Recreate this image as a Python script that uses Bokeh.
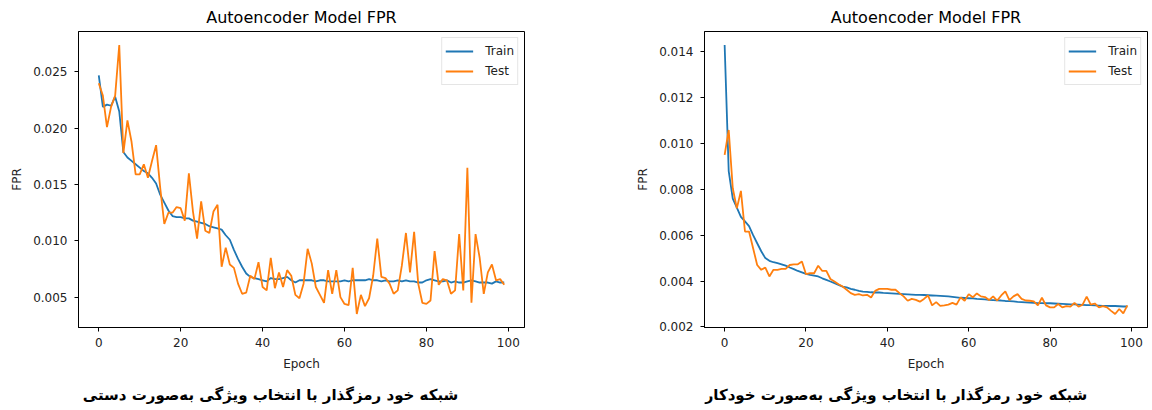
from bokeh.plotting import figure
from bokeh.layouts import row, column
from bokeh.models import Range1d, FixedTicker, PrintfTickFormatter, Label, Legend, LegendItem
from bokeh.embed import file_html
from bokeh.resources import INLINE

epochs = list(range(100))

manual_train = [
    0.0247, 0.0219, 0.0221, 0.0220, 0.0228, 0.0215, 0.0179, 0.0174, 0.0171, 0.0168,
    0.0165, 0.0162, 0.0160, 0.0156, 0.0151, 0.0141, 0.0134, 0.0127, 0.0122, 0.0121,
    0.0121, 0.0120, 0.0120, 0.0118, 0.0117, 0.0116, 0.0115, 0.0113, 0.0112, 0.0111,
    0.0110, 0.0105, 0.0101, 0.0092, 0.0084, 0.0077, 0.0071, 0.0068, 0.0067, 0.0066,
    0.0065, 0.0064, 0.0067, 0.0066, 0.0066, 0.0067, 0.0068, 0.0065, 0.0063, 0.0065,
    0.0065, 0.0065, 0.0065, 0.0064, 0.0065, 0.0065, 0.0064, 0.0064, 0.0064, 0.0064,
    0.0065, 0.0064, 0.0065, 0.0065, 0.0065, 0.0065, 0.0066, 0.0065, 0.0065, 0.0064,
    0.0065, 0.0064, 0.0064, 0.0065, 0.0064, 0.0065, 0.0064, 0.0064, 0.0063, 0.0063,
    0.0065, 0.0066, 0.0065, 0.0064, 0.0064, 0.0065, 0.0063, 0.0064, 0.0063, 0.0063,
    0.0064, 0.0065, 0.0064, 0.0063, 0.0063, 0.0063, 0.0062, 0.0064, 0.0063, 0.0063,
]
manual_test = [
    0.0240, 0.0229, 0.0201, 0.0219, 0.0229, 0.0274, 0.0178, 0.0207, 0.0188, 0.0159,
    0.0159, 0.0168, 0.0156, 0.0171, 0.0185, 0.0147, 0.0115, 0.0125, 0.0125, 0.0130,
    0.0129, 0.0118, 0.0160, 0.0126, 0.0102, 0.0135, 0.0109, 0.0107, 0.0126, 0.0132,
    0.0077, 0.0094, 0.0079, 0.0076, 0.0062, 0.0053, 0.0054, 0.0069, 0.0066, 0.0081,
    0.0059, 0.0056, 0.0085, 0.0058, 0.0072, 0.0059, 0.0074, 0.0069, 0.0052, 0.0049,
    0.0062, 0.0093, 0.0080, 0.0059, 0.0052, 0.0045, 0.0074, 0.0053, 0.0074, 0.0050,
    0.0044, 0.0043, 0.0076, 0.0035, 0.0052, 0.0042, 0.0049, 0.0069, 0.0102, 0.0068,
    0.0067, 0.0062, 0.0053, 0.0056, 0.0078, 0.0107, 0.0072, 0.0108, 0.0062, 0.0045,
    0.0044, 0.0047, 0.0091, 0.0061, 0.0066, 0.0065, 0.0053, 0.0056, 0.0106, 0.0056,
    0.0165, 0.0045, 0.0106, 0.0085, 0.0053, 0.0072, 0.0079, 0.0065, 0.0066, 0.0061,
]
auto_train = [
    0.0143, 0.0088, 0.0076, 0.0072, 0.0068, 0.0066, 0.0064, 0.0060, 0.00565, 0.0053,
    0.0050, 0.00488, 0.00482, 0.00478, 0.00473, 0.00467, 0.00459, 0.00452, 0.00444, 0.00438,
    0.00431, 0.00427, 0.00424, 0.0042, 0.00412, 0.00405, 0.00398, 0.00391, 0.00383, 0.00376,
    0.00372, 0.00366, 0.00362, 0.00357, 0.00354, 0.00353, 0.00351, 0.0035, 0.0035, 0.00348,
    0.00347, 0.00346, 0.00345, 0.00344, 0.00343, 0.00342, 0.00341, 0.00340, 0.00340, 0.00339,
    0.00338, 0.00337, 0.00336, 0.00335, 0.00334, 0.00333, 0.00331, 0.00329, 0.00327, 0.00326,
    0.00325, 0.00324, 0.00322, 0.00321, 0.00320, 0.00318, 0.00317, 0.00316, 0.00315, 0.00313,
    0.00312, 0.00311, 0.00309, 0.00308, 0.00307, 0.00306, 0.00305, 0.00304, 0.00304, 0.00303,
    0.00303, 0.00302, 0.00301, 0.00300, 0.00299, 0.00298, 0.00298, 0.00297, 0.00296, 0.00295,
    0.00295, 0.00294, 0.00293, 0.00292, 0.00292, 0.00291, 0.00291, 0.00290, 0.00289, 0.00289,
]
auto_test = [
    0.0095, 0.01059, 0.00805, 0.00717, 0.00793, 0.00616, 0.00616, 0.00543, 0.0047, 0.00449,
    0.00459, 0.0042, 0.00449, 0.00449, 0.00453, 0.00453, 0.0047, 0.00473, 0.00473, 0.00485,
    0.0043, 0.00434, 0.00434, 0.00467, 0.00444, 0.00444, 0.00409, 0.00398, 0.00386, 0.00376,
    0.00362, 0.00347, 0.0034, 0.00343, 0.00337, 0.0034, 0.00328, 0.00357, 0.00366, 0.00366,
    0.00366, 0.00362, 0.00362, 0.00347, 0.00333, 0.00314, 0.00322, 0.00318, 0.0031, 0.00322,
    0.00337, 0.00294, 0.00308, 0.00292, 0.00294, 0.00297, 0.00305, 0.00297, 0.00329, 0.00314,
    0.00343, 0.00329, 0.00346, 0.00333, 0.0033, 0.00317, 0.00333, 0.00315, 0.00337, 0.00355,
    0.00317, 0.00333, 0.00343, 0.00322, 0.00315, 0.00314, 0.00311, 0.00294, 0.00327, 0.00294,
    0.00285, 0.00285, 0.003, 0.00285, 0.00291, 0.00288, 0.00305, 0.00288, 0.00297, 0.00332,
    0.00297, 0.00302, 0.00285, 0.00291, 0.00285, 0.0027, 0.00256, 0.00278, 0.00259, 0.00294,
]

x_ticks = [0, 20, 40, 60, 80, 100]
manual_y_ticks = [0.005, 0.010, 0.015, 0.020, 0.025]
auto_y_ticks = [0.002, 0.004, 0.006, 0.008, 0.010, 0.012, 0.014]

chart_title = "Autoencoder Model FPR"
x_label = "Epoch"
y_label = "FPR"
series_names = ["Train", "Test"]
captions = [
    "شبکه خود رمزگذار با انتخاب ویژگی به\u200cصورت دستی",
    "شبکه خود رمزگذار با انتخاب ویژگی به\u200cصورت خودکار",
]

BLUE = "#1f77b4"
ORANGE = "#ff7f0e"
FONT = "DejaVu Sans"
MAIN_H = 378
CAP_H = 32


def make_panel(train, test, yticks, width, mb_left, mb_right):
    n = len(train)
    lo = min(min(train), min(test))
    hi = max(max(train), max(test))
    pad = 0.05 * (hi - lo)
    xpad = 0.05 * (n - 1)
    p = figure(width=width, height=MAIN_H, output_backend="svg", toolbar_location=None,
               x_range=Range1d(-xpad, n - 1 + xpad), y_range=Range1d(lo - pad, hi + pad),
               min_border_left=mb_left, min_border_right=mb_right,
               min_border_top=30, min_border_bottom=MAIN_H - 327,
               title=chart_title)
    p.title.align = "center"
    p.title.text_font = FONT
    p.title.text_font_size = "16px"
    p.title.text_font_style = "normal"
    p.title.text_color = "black"
    p.title.standoff = 10
    p.xgrid.visible = False
    p.ygrid.visible = False
    p.outline_line_color = "black"
    p.outline_line_width = 1
    p.background_fill_color = "white"
    p.border_fill_color = "white"

    r1 = p.line(epochs, train, line_color=BLUE, line_width=1.8)
    r2 = p.line(epochs, test, line_color=ORANGE, line_width=1.8)

    for ax in (p.xaxis[0], p.yaxis[0]):
        ax.axis_line_color = "black"
        ax.major_tick_line_color = "black"
        ax.minor_tick_line_color = None
        ax.major_tick_out = 4
        ax.major_tick_in = 0
        ax.major_label_text_font = FONT
        ax.major_label_text_font_size = "12px"
        ax.major_label_text_color = "#222222"
        ax.axis_label_text_font = FONT
        ax.axis_label_text_font_size = "12px"
        ax.axis_label_text_font_style = "normal"
        ax.axis_label_text_color = "#222222"
    p.xaxis.ticker = FixedTicker(ticks=x_ticks)
    p.xaxis.axis_label = x_label
    p.xaxis.major_label_standoff = 6
    p.xaxis.axis_label_standoff = 7
    p.yaxis.ticker = FixedTicker(ticks=yticks)
    p.yaxis.formatter = PrintfTickFormatter(format="%.3f")
    p.yaxis.axis_label = y_label
    p.yaxis.major_label_standoff = 7
    p.yaxis.axis_label_standoff = 6

    legend = Legend(items=[LegendItem(label=series_names[0], renderers=[r1]),
                           LegendItem(label=series_names[1], renderers=[r2])],
                    location="top_right")
    legend.margin = 6
    legend.padding = 3
    legend.spacing = 0
    legend.glyph_width = 28
    legend.glyph_height = 20
    legend.label_height = 20
    legend.label_standoff = 12
    legend.label_text_font = FONT
    legend.label_text_font_size = "12px"
    legend.label_text_color = "#222222"
    legend.border_line_color = "#cccccc"
    legend.border_line_width = 1
    legend.background_fill_alpha = 0.8
    p.add_layout(legend)
    return p


def make_caption(text, width, cx):
    c = figure(width=width, height=CAP_H, output_backend="svg", toolbar_location=None,
               x_range=Range1d(0, width), y_range=Range1d(0, CAP_H),
               x_axis_type=None, y_axis_type=None,
               min_border=0, min_border_left=0, min_border_right=0,
               min_border_top=0, min_border_bottom=0)
    c.xgrid.visible = False
    c.ygrid.visible = False
    c.outline_line_color = None
    c.background_fill_color = "white"
    c.border_fill_color = "white"
    c.add_layout(Label(x=cx, y=CAP_H - 16, text=text,
                       text_font=FONT, text_font_size="15px", text_font_style="bold",
                       text_color="black", text_align="center", text_baseline="middle"))
    return c


p1 = make_panel(manual_train, manual_test, manual_y_ticks, 576, 78, 52)
p2 = make_panel(auto_train, auto_test, auto_y_ticks, 576, 128, 5)
c1 = make_caption(captions[0], 576, 248)
c2 = make_caption(captions[1], 576, 249)

layout = row(column(p1, c1), column(p2, c2))
open("out.html", "w").write(file_html(layout, INLINE))
